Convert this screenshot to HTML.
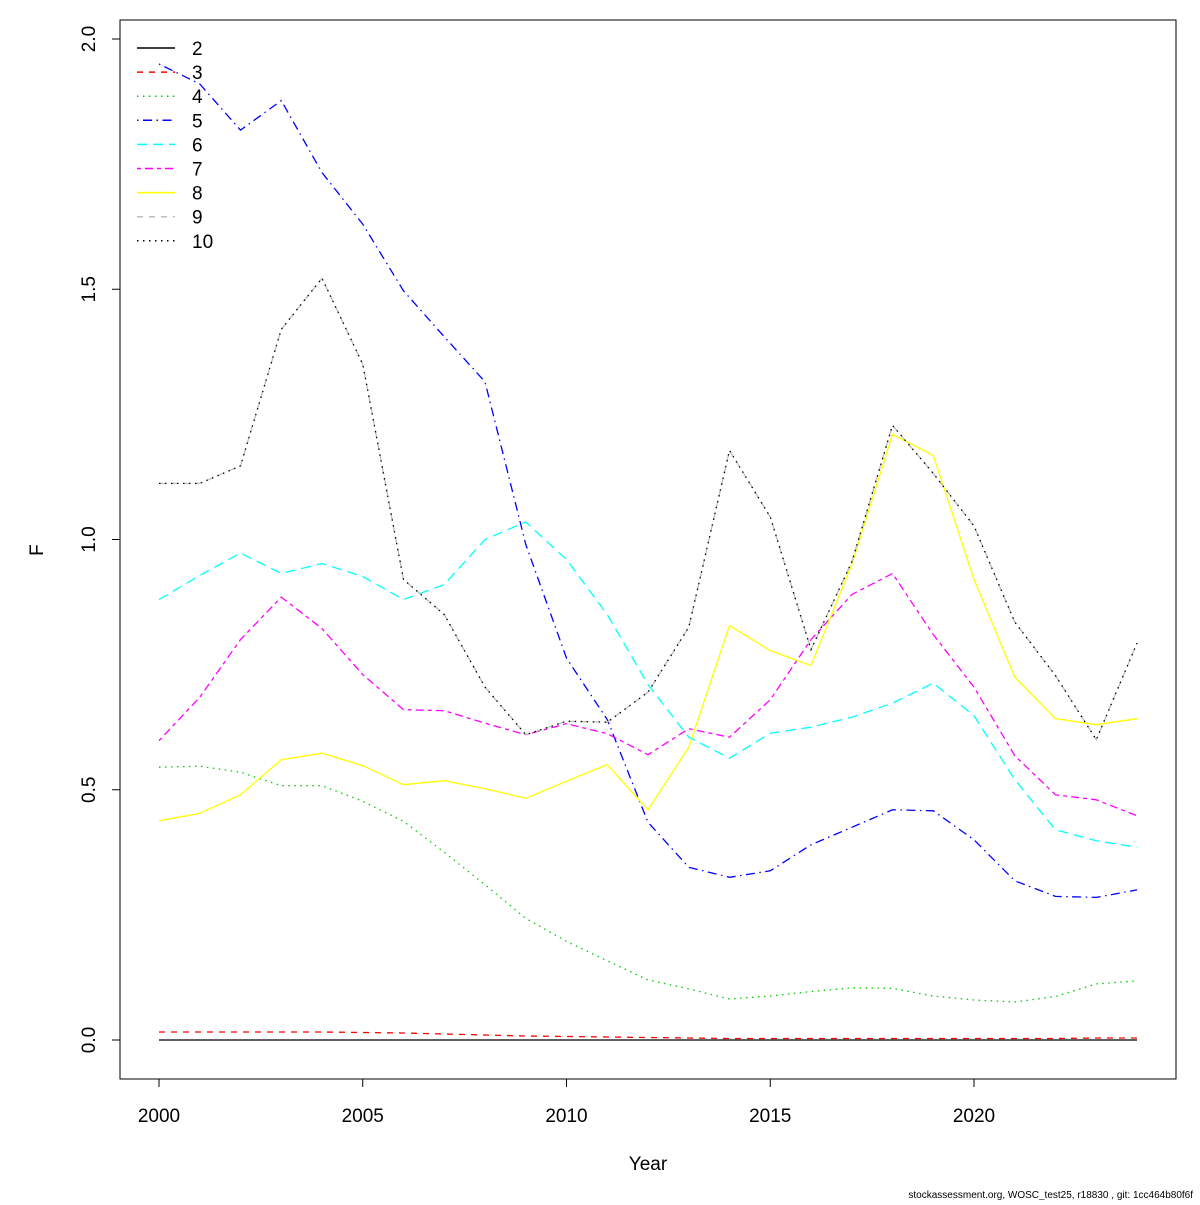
<!DOCTYPE html>
<html><head><meta charset="utf-8"><style>
body{margin:0;background:#fff}
svg text{font-family:"Liberation Sans",sans-serif}
</style></head><body>
<svg id="chart" width="1200" height="1200" xmlns="http://www.w3.org/2000/svg">
<rect width="1200" height="1200" fill="#fff"/>
<g id="marks"></g>
<rect x="120" y="20" width="1056" height="1059" fill="none" stroke="#000" stroke-width="1"/>
<g id="axes"></g>
<text x="648" y="1170" font-size="19" text-anchor="middle">Year</text>
<text x="43" y="550" font-size="19" text-anchor="middle" transform="rotate(-90 43 550)">F</text>
<text x="1193" y="1198" font-size="10" text-anchor="end">stockassessment.org, WOSC_test25, r18830 , git: 1cc464b80f6f</text>
<g id="legend"></g>
</svg>
<script>
const years=[2000,2001,2002,2003,2004,2005,2006,2007,2008,2009,2010,2011,2012,2013,2014,2015,2016,2017,2018,2019,2020,2021,2022,2023,2024];
const seriesNames=["2","3","4","5","6","7","8","9","10"];
const age2=[0,0,0,0,0,0,0,0,0,0,0,0,0,0,0,0,0,0,0,0,0,0,0,0,0];
const age3=[0.016,0.016,0.016,0.016,0.016,0.015,0.014,0.012,0.010,0.008,0.007,0.006,0.005,0.004,0.003,0.003,0.003,0.003,0.003,0.003,0.003,0.003,0.003,0.004,0.004];
const age4=[0.545,0.547,0.535,0.508,0.508,0.477,0.437,0.375,0.31,0.243,0.197,0.158,0.12,0.102,0.082,0.088,0.097,0.104,0.103,0.088,0.08,0.076,0.087,0.112,0.118];
const age5=[1.95,1.91,1.818,1.877,1.733,1.63,1.497,1.405,1.315,0.99,0.763,0.64,0.435,0.345,0.325,0.338,0.39,0.425,0.46,0.458,0.40,0.318,0.287,0.285,0.3];
const age6=[0.88,0.928,0.973,0.932,0.952,0.926,0.88,0.91,1.0,1.035,0.96,0.85,0.71,0.605,0.563,0.613,0.625,0.645,0.673,0.713,0.648,0.52,0.42,0.398,0.385];
const age7=[0.598,0.685,0.8,0.885,0.822,0.73,0.66,0.658,0.633,0.61,0.632,0.612,0.57,0.622,0.605,0.68,0.8,0.89,0.932,0.81,0.705,0.568,0.49,0.48,0.448];
const age8=[0.438,0.453,0.49,0.56,0.573,0.548,0.51,0.518,0.502,0.483,0.517,0.55,0.46,0.585,0.828,0.778,0.748,0.95,1.21,1.168,0.92,0.725,0.642,0.63,0.642];
const age9=[1.112,1.112,1.147,1.42,1.522,1.35,0.92,0.85,0.705,0.61,0.637,0.635,0.695,0.825,1.178,1.045,0.78,0.955,1.228,1.132,1.027,0.835,0.728,0.6,0.793];
const age10=[1.112,1.112,1.147,1.42,1.522,1.35,0.92,0.85,0.705,0.61,0.637,0.635,0.695,0.825,1.178,1.045,0.78,0.955,1.228,1.132,1.027,0.835,0.728,0.6,0.793];
const xTicks=[2000,2005,2010,2015,2020];
const yTicks=[0,0.5,1,1.5,2];
const yTickLabels=["0.0","0.5","1.0","1.5","2.0"];

const NS="http://www.w3.org/2000/svg";
function xs(v){return 159+(v-2000)*40.75;}
function ys(v){return 1040-v*500.5;}
const all=[age2,age3,age4,age5,age6,age7,age8,age9,age10];
const cols=["#000","#ff0000","#00cd00","#0000ff","#00ffff","#ff00ff","#ffff00","#bebebe","#000"];
const dashes=["","6 6","1.5 4.5","1.5 4.5 9 4.5","10 6","4 4 8 4","","6 6","1.5 4.5"];
function mk(t,a,p){const e=document.createElementNS(NS,t);for(const k in a)e.setAttribute(k,a[k]);p.appendChild(e);return e;}
const marks=document.getElementById('marks');
all.forEach((s,i)=>{
 const d=s.map((v,j)=>(j?'L':'M')+xs(years[j]).toFixed(1)+','+ys(v).toFixed(1)).join('');
 const p=mk('path',{d:d,fill:'none',stroke:cols[i],'stroke-width':1.3,'stroke-dasharray':dashes[i]},marks);
 
 
});
const ax=document.getElementById('axes');


mk('line',{x1:xs(2000),x2:xs(2020),y1:1079,y2:1079,stroke:'#000'},ax);
xTicks.forEach(t=>{
 mk('line',{x1:xs(t),x2:xs(t),y1:1079,y2:1087,stroke:'#000'},ax);
 const tx=mk('text',{x:xs(t),y:1122,'font-size':19,'text-anchor':'middle'},ax);
 tx.textContent=t;
 
 
});
mk('line',{x1:120,x2:120,y1:ys(0),y2:ys(2),stroke:'#000'},ax);
yTicks.forEach((t,i)=>{
 mk('line',{x1:112,x2:120,y1:ys(t),y2:ys(t),stroke:'#000'},ax);
 const tx=mk('text',{x:95,y:ys(t),'font-size':19,'text-anchor':'middle',transform:'rotate(-90 95 '+ys(t)+')'},ax);
 tx.textContent=yTickLabels[i];
 
 
});
const lg=document.getElementById('legend');
seriesNames.forEach((n,i)=>{
 const y=48+i*24.1;
 const l=mk('line',{x1:137,x2:175,y1:y,y2:y,stroke:cols[i],'stroke-width':1.5,'stroke-dasharray':dashes[i]},lg);
 
 
 const t=mk('text',{x:192,y:y+7,'font-size':19},lg);
 t.textContent=n;
 
 
});
</script>
</body></html>
